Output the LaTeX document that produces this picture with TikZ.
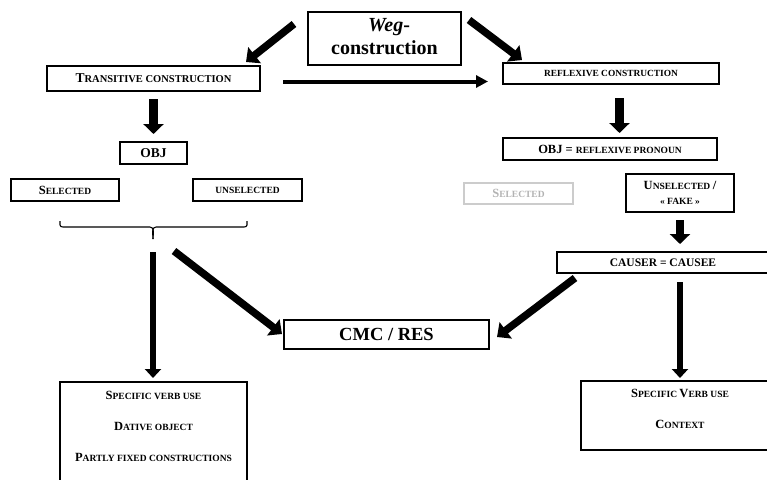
\documentclass[tikz,border=0pt]{standalone}
\usepackage{fontspec}
\setmainfont{Liberation Serif}
\usetikzlibrary{arrows.meta}
\newcommand\Ca[2]{{\fontsize{#1}{#1}\selectfont #2}}
\begin{document}
\begin{tikzpicture}[x=1pt,y=-1pt,
  box/.style={draw=black,line width=1.3pt,inner sep=0pt,font=\bfseries,align=center},
  greybox/.style={draw=black!20,line width=1.3pt,inner sep=0pt,font=\bfseries,text=black!30},
  bigarr/.style={line width=8.5pt,-{Triangle[length=10pt,width=20pt]}},
  diagarr/.style={line width=7.5pt,-{Triangle[length=11pt,width=20pt]}},
  longarr/.style={line width=6.5pt,-{Triangle[length=9pt,width=16pt]}},
  thinarr/.style={line width=4pt,-{Triangle[length=12pt,width=12pt]}},
  txt/.style={inner sep=0pt,font=\bfseries}]
\useasboundingbox (0,0) rectangle (767,479);
\clip (0,0) rectangle (767,479);
% boxes
\node[box,minimum width=153pt,minimum height=53pt] (weg) at (384.5,38.5) {};
\node[txt] (wegA) at (389,27) {\Ca{20}{\itshape Weg}\Ca{20}{-}};
\node[txt] (wegB) at (384.5,48) {\Ca{20}{construction}};
\node[box,minimum width=213pt,minimum height=25pt] (trans) at (153.5,78.5) {\Ca{13.5}{T}\Ca{10.5}{RANSITIVE CONSTRUCTION}};
\node[box,minimum width=216pt,minimum height=21pt] (refl) at (611,73.5) {\Ca{9.4}{REFLEXIVE CONSTRUCTION}};
\node[box,minimum width=67pt,minimum height=22pt] (obj) at (153.5,153) {\Ca{13.5}{OBJ}};
\node[box,minimum width=108pt,minimum height=22pt] (sel) at (65,190) {\Ca{12.5}{S}\Ca{9.5}{ELECTED}};
\node[box,minimum width=109pt,minimum height=22pt] (unsel) at (247.5,190) {\Ca{9.5}{UNSELECTED}};
\node[box,minimum width=214pt,minimum height=22pt] (objr) at (610,149) {\Ca{12.5}{OBJ = }\Ca{9.5}{REFLEXIVE PRONOUN}};
\node[greybox,minimum width=109pt,minimum height=21pt] (selr) at (518.5,193.5) {\Ca{12.5}{S}\Ca{9.5}{ELECTED}};
\node[box,minimum width=108pt,minimum height=38pt] (fake) at (680,193) {\Ca{12.5}{U}\Ca{9.5}{NSELECTED} \Ca{12.5}{/}\\[3pt]\Ca{9.5}{« FAKE »}};
\node[box,minimum width=212pt,minimum height=21pt] (caus) at (663,262.5) {};
\node[txt] (causT) at (663,262.5) {\Ca{11.5}{CAUSER = CAUSEE}};
\node[box,minimum width=205pt,minimum height=29pt] (cmc) at (386.5,334.5) {\Ca{18.5}{CMC / RES}};
\node[box,minimum width=187pt,minimum height=110pt] (specL) at (153.5,437) {};
\node[txt] (sL1) at (153.5,395) {\Ca{12.5}{S}\Ca{9.5}{PECIFIC VERB USE}};
\node[txt] (sL2) at (153.5,426) {\Ca{12.5}{D}\Ca{9.5}{ATIVE OBJECT}};
\node[txt] (sL3) at (153.5,457) {\Ca{12.5}{P}\Ca{9.5}{ARTLY FIXED CONSTRUCTIONS}};
\node[box,minimum width=198pt,minimum height=69pt] (specR) at (680,415.5) {};
\node[txt] (sR1) at (680,393) {\Ca{12.5}{S}\Ca{9.5}{PECIFIC }\Ca{12.5}{V}\Ca{9.5}{ERB USE}};
\node[txt] (sR2) at (680,424) {\Ca{12.5}{C}\Ca{9.5}{ONTEXT}};
% brace
\coordinate (brL) at (60,221);
\coordinate (brR) at (247,221);
\coordinate (brT) at (153,239);
\draw[line width=1.1pt] (brL) -- (60,225) to[out=-90,in=180] (63,227) -- (150,227) to[out=0,in=90] (brT);
\draw[line width=1.1pt] (brR) -- (247,225) to[out=-90,in=0] (244,227) -- (156,227) to[out=180,in=90] (brT);
% arrow coordinates
\coordinate (a1s) at (294,24);
\coordinate (a1e) at (246,62);
\coordinate (a2s) at (469,20);
\coordinate (a2e) at (522,60);
\coordinate (a3s) at (283,81.5);
\coordinate (a3e) at (488,81.5);
\coordinate (a4s) at (153.5,99);
\coordinate (a4e) at (153.5,134);
\coordinate (a5s) at (619.5,98);
\coordinate (a5e) at (619.5,133);
\coordinate (a6s) at (680,220);
\coordinate (a6e) at (680,244);
\coordinate (a7s) at (153,252);
\coordinate (a7e) at (153,378);
\coordinate (a8s) at (174,251);
\coordinate (a8e) at (282,334);
\coordinate (a9s) at (575,278);
\coordinate (a9e) at (497,337);
\coordinate (a10s) at (680,282);
\coordinate (a10e) at (680,378);
% arrows
\draw[diagarr] (a1s) -- (a1e);
\draw[diagarr] (a2s) -- (a2e);
\draw[thinarr] (a3s) -- (a3e);
\draw[bigarr] (a4s) -- (a4e);
\draw[bigarr] (a5s) -- (a5e);
\draw[bigarr] (a6s) -- (a6e);
\draw[longarr] (a7s) -- (a7e);
\draw[diagarr] (a8s) -- (a8e);
\draw[diagarr] (a9s) -- (a9e);
\draw[longarr] (a10s) -- (a10e);
\end{tikzpicture}
\end{document}
